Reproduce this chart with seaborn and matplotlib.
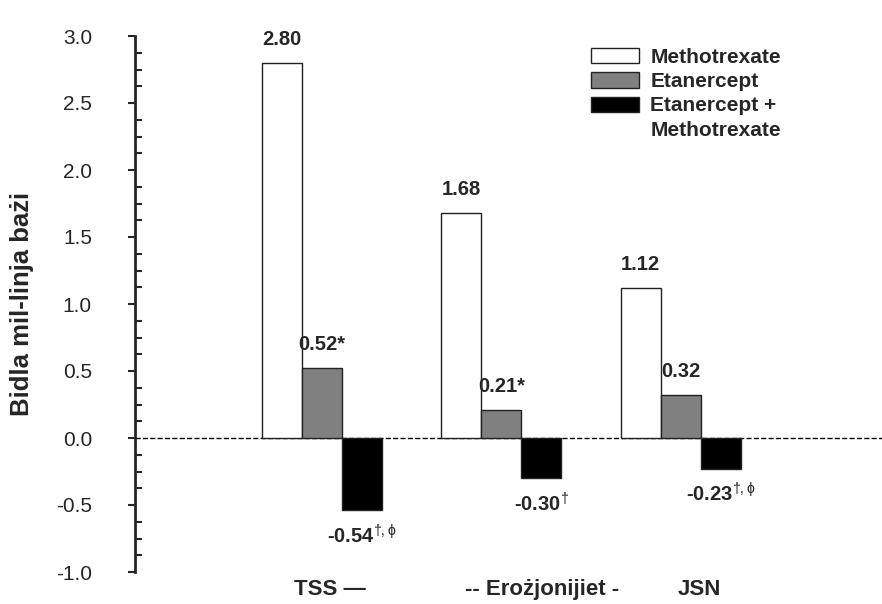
import matplotlib
matplotlib.use('Agg')
import matplotlib.pyplot as plt
import matplotlib.transforms as mtransforms
from matplotlib.patches import Patch
from matplotlib.ticker import MultipleLocator
import pandas as pd
import seaborn as sns

# data
measures = ['TSS', 'Erosion', 'JSN']
tick_labels = ['TSS —', '-- Erożjonijiet -', 'JSN']
groups = ['Methotrexate', 'Etanercept', 'Etanercept + Methotrexate']
methotrexate = [2.80, 1.68, 1.12]
etanercept = [0.52, 0.21, 0.32]
combination = [-0.54, -0.30, -0.23]
mtx_labels = ['2.80', '1.68', '1.12']
eta_labels = ['0.52*', '0.21*', '0.32']
combo_labels = [r'-0.54$^{\dagger,\mathrm{\phi}}$', r'-0.30$^{\dagger}$',
                r'-0.23$^{\dagger,\mathrm{\phi}}$']
legend_labels = ['Methotrexate', 'Etanercept', 'Etanercept +', 'Methotrexate']
colors = ['#ffffff', '#808080', '#000000']

df = pd.DataFrame({
    'measure': measures * 3,
    'group': [g for g in groups for _ in measures],
    'value': methotrexate + etanercept + combination,
})

sns.set_style('ticks')
plt.rcParams['font.family'] = ['Liberation Sans', 'DejaVu Sans']
plt.rcParams['axes.unicode_minus'] = False
plt.rcParams['mathtext.fontset'] = 'custom'
plt.rcParams['mathtext.rm'] = 'Liberation Sans'
plt.rcParams['mathtext.it'] = 'Liberation Sans'
plt.rcParams['mathtext.bf'] = 'Liberation Sans:bold'

fig = plt.figure(figsize=(8.82, 6.04), dpi=100)
ax = fig.add_axes([135 / 882, 1 - 572 / 604, 747 / 882, 536 / 604])

sns.barplot(data=df, x='measure', y='value', hue='group', order=measures,
            hue_order=groups, palette=colors, width=0.67, gap=0,
            edgecolor='#222222', linewidth=1, saturation=1, ax=ax)

for cont, labs in zip(ax.containers, [mtx_labels, eta_labels, combo_labels]):
    ax.bar_label(cont, labels=labs, padding=10, fontsize=14.5, fontweight='bold')

ax.axhline(0, color='black', lw=1, ls='--', zorder=0)

ax.set_ylim(-1.0, 3.0)
ax.set_xlim(-1.04, 3.12)
ax.yaxis.set_major_locator(MultipleLocator(0.5))
ax.yaxis.set_minor_locator(MultipleLocator(0.125))
ax.yaxis.set_major_formatter(matplotlib.ticker.FormatStrFormatter('%.1f'))
ax.tick_params(axis='y', which='major', direction='out', length=5, width=1.5,
               labelsize=15, pad=26)
ax.tick_params(axis='y', which='minor', direction='in', length=5, width=1.5)
ax.tick_params(axis='x', length=0, pad=5)

ax.set_xticks(range(len(measures)))
ax.set_xticklabels(tick_labels, fontsize=16, fontweight='bold')
shifts = [8, 41, 19]
for lab, dx in zip(ax.get_xticklabels(), shifts):
    lab.set_transform(lab.get_transform() +
                      mtransforms.ScaledTranslation(dx / 100, 0, fig.dpi_scale_trans))

ax.set_xlabel('')
ax.set_ylabel('')
fig.text(22 / 882, 0.497, 'Bidla mil-linja bażi', rotation=90, ha='center',
         va='center', fontsize=18.5, fontweight='bold')

sns.despine(ax=ax, top=True, right=True, bottom=True)
ax.spines['left'].set_linewidth(2)

handles = [Patch(facecolor=c, edgecolor='#222222', linewidth=1) for c in colors]
handles.append(Patch(visible=False))
if ax.legend_ is not None:
    ax.legend_.remove()
ax.legend(handles, legend_labels, loc='upper left',
          bbox_to_anchor=((591 - 135) / 747, (572 - 48) / 536),
          frameon=False, borderpad=0, borderaxespad=0,
          handlelength=2.3, handleheight=0.75, handletextpad=0.55,
          labelspacing=0.25, prop={'size': 15, 'weight': 'bold'})

fig.savefig('out.png', dpi=100)
